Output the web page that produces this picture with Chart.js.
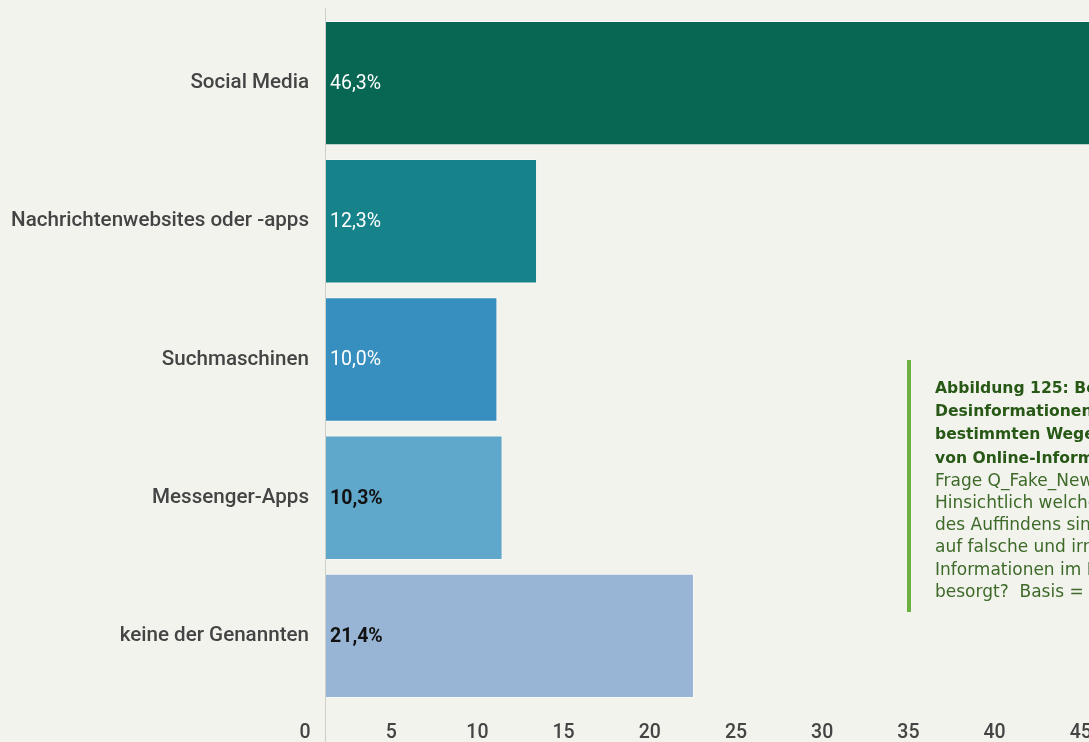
<!DOCTYPE html>
<html>
<head>
<meta charset="utf-8">
<script src="https://cdn.jsdelivr.net/npm/chart.js@4"></script>
<style>
    html, body { margin: 0; padding: 0; background: #f3f3ee; overflow: hidden; }
    #wrap { position: relative; width: 1200px; height: 742px; }
    #note {
        position: absolute; left: 907px; top: 360px; height: 252px;
        border-left: 4px solid #6cb03f; padding-left: 24px; padding-top: 16px;
        box-sizing: border-box; white-space: nowrap;
        font-family: "DejaVu Sans", sans-serif; font-size: 17px; line-height: 22.2px; color: #3d6a28;
    }
    #note b { color: #275816; font-weight: bold; font-size: 15.6px; }
</style>
</head>
<body>
<div id="wrap">
    <canvas id="chart" width="1200" height="742"></canvas>
    <div id="note">
        <b>Abbildung 125: Besorgnis über<br>Desinformationen bei<br>bestimmten Wegen des Auffindens<br>von Online-Informationen</b><br>
        Frage Q_Fake_News_Channel<br>Hinsichtlich welcher dieser Wege<br>des Auffindens sind Sie in Bezug<br>auf falsche und irreführende<br>Informationen im Internet am meisten<br>besorgt?&nbsp; Basis = (2.000)
    </div>
</div>
<script>
'use strict';

// Werte
const kategorien = ['Social Media', 'Nachrichtenwebsites oder -apps', 'Suchmaschinen', 'Messenger-Apps', 'keine der Genannten'];
const anteile = [46.3, 12.3, 10.0, 10.3, 21.4];
const balkenFarben = ['#086753', '#16828a', '#368fbe', '#5fa8cc', '#98b5d6'];
const labelFarben = ['#ffffff', '#ffffff', '#ffffff', '#111111', '#111111'];
const labelFett = [false, false, false, true, true];
const xTicks = [0, 5, 10, 15, 20, 25, 30, 35, 40, 45, 50];

const FONT = 'Roboto, sans-serif';

const wertLabels = {
    id: 'wertLabels',
    afterDatasetsDraw(chart) {
        const { ctx } = chart;
        const meta = chart.getDatasetMeta(0);
        ctx.save();
        ctx.textBaseline = 'middle';
        ctx.textAlign = 'left';
        meta.data.forEach((bar, i) => {
            ctx.font = `${labelFett[i] ? 'bold ' : ''}19.5px ${FONT}`;
            ctx.fillStyle = labelFarben[i];
            ctx.fillText(anteile[i].toFixed(1).replace('.', ',') + '%', bar.base + 5, bar.y + 1);
        });
        ctx.restore();
    }
};

const achsenLinie = {
    id: 'achsenLinie',
    afterDraw(chart) {
        const { ctx, chartArea } = chart;
        ctx.save();
        ctx.strokeStyle = '#cfcfca';
        ctx.lineWidth = 1;
        ctx.beginPath();
        ctx.moveTo(chartArea.left + 0.5, 8);
        ctx.lineTo(chartArea.left + 0.5, chart.height);
        ctx.stroke();
        ctx.restore();
    }
};

new Chart(document.getElementById('chart').getContext('2d'), {
    type: 'bar',
    data: {
        labels: kategorien,
        datasets: [{
            data: anteile,
            backgroundColor: balkenFarben,
            borderColor: 'rgba(255,255,255,0.45)',
            borderWidth: 1,
            barPercentage: 0.9,
            categoryPercentage: 1
        }]
    },
    options: {
        indexAxis: 'y',
        responsive: false,
        animation: false,
        layout: { padding: { top: 14, right: 13, left: 0, bottom: 0 } },
        plugins: { legend: { display: false }, tooltip: { enabled: false } },
        scales: {
            x: {
                min: 0, max: 50,
                afterBuildTicks: (s) => { s.ticks = xTicks.map(v => ({ value: v })); },
                afterFit: (s) => { s.height = 37; s.paddingLeft = 0; s.paddingRight = 0; },
                grid: { display: false, drawTicks: false },
                border: { display: false },
                ticks: { color: '#444', font: { family: FONT, size: 19.5, weight: 500 }, padding: 16, labelOffset: -20, maxRotation: 0 }
            },
            y: {
                afterFit: (s) => { s.width = 325; s.paddingTop = 0; s.paddingBottom = 0; },
                grid: { display: false, drawTicks: false },
                border: { display: false },
                ticks: { color: '#444', font: { family: FONT, size: 20.6, weight: 500 }, padding: 16 }
            }
        }
    },
    plugins: [wertLabels, achsenLinie]
});
</script>
</body>
</html>
